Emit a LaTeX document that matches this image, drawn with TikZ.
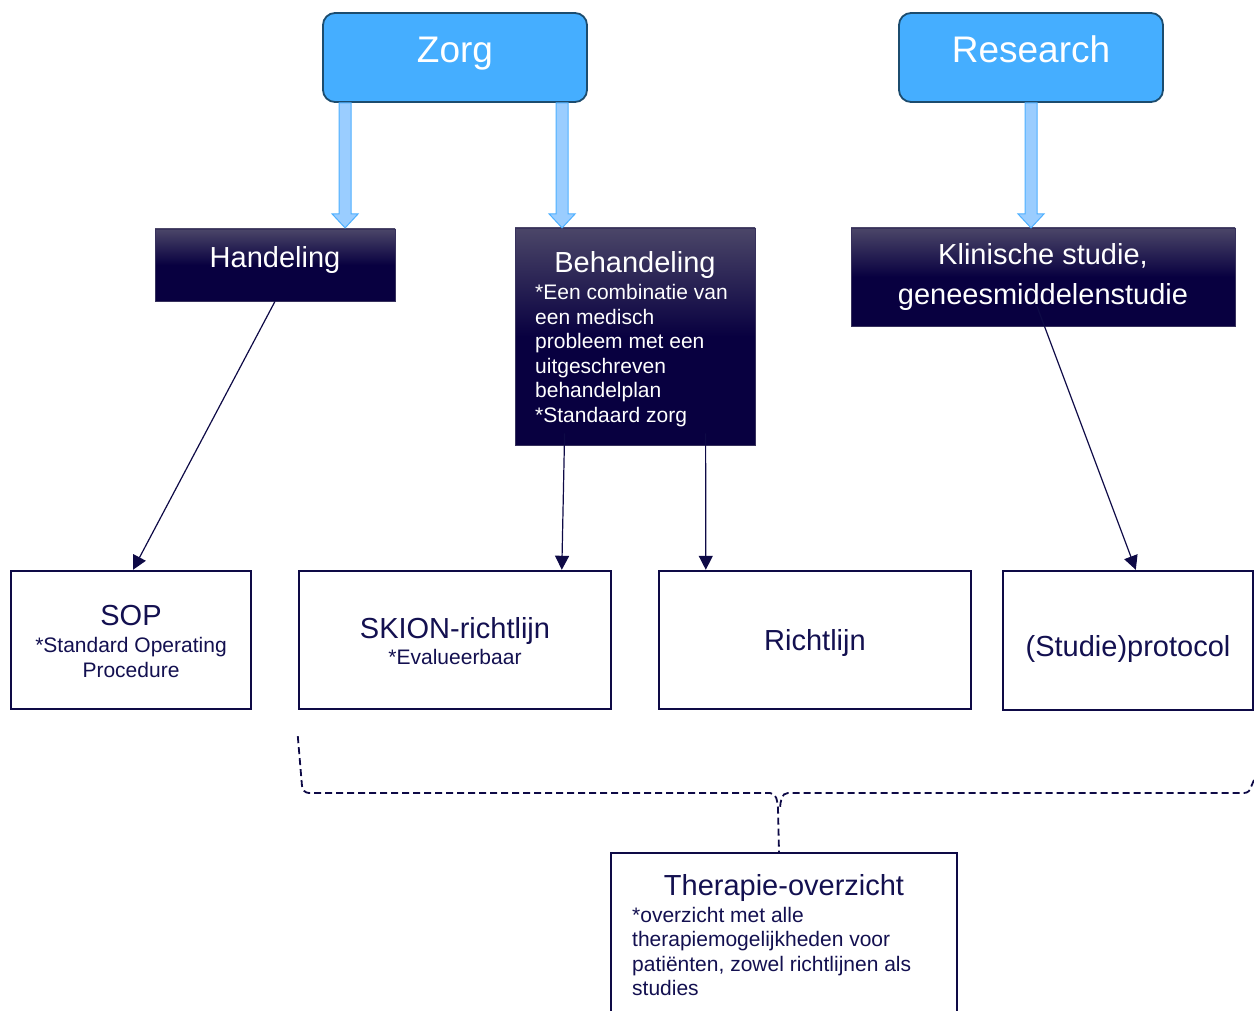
\documentclass[tikz,border=0pt]{standalone}
\usepackage{fontspec}
\setmainfont{Liberation Sans}
\usetikzlibrary{arrows.meta,calc}
\definecolor{navy}{HTML}{0E0A46}
\definecolor{navytext}{HTML}{131050}
\definecolor{zblue}{HTML}{45AEFF}
\definecolor{zborder}{HTML}{1C4C6E}
\definecolor{afill}{HTML}{9ACDFF}
\definecolor{aline}{HTML}{4EB0FF}
\definecolor{gtop}{HTML}{4B4668}
\definecolor{gbot}{HTML}{080040}
\pgfdeclareverticalshading{gradsh}{100bp}{color(0bp)=(gbot); color(50bp)=(gbot); color(75bp)=(gtop); color(100bp)=(gtop)}
\newcommand{\fs}[1]{\fontsize{#1}{#1}\selectfont}
\tikzset{
  topbox/.style={draw=zborder, line width=1.8pt, fill=zblue, rounded corners=12pt, inner sep=0pt},
  gradbox/.style={draw=gtop!70!gbot, line width=0.8pt, shading=gradsh, inner sep=0pt},
  whitebox/.style={draw=navy, line width=2.4pt, fill=white, inner sep=0pt},
  ttl/.style={inner sep=0pt, anchor=base, font=\fs{29}},
  bodyl/.style={inner sep=0pt, anchor=base west, font=\fs{21}},
  bodyc/.style={inner sep=0pt, anchor=base, font=\fs{21}},
  barrow/.style={draw=aline, line width=1pt, fill=afill},
  conn/.style={draw=navy, line width=1.2pt, -{Triangle[length=14pt,width=14pt]}},
  bracestyle/.style={draw=navy, line width=1.8pt, dash pattern=on 7pt off 4pt}
}
\begin{document}
\begin{tikzpicture}[x=1pt,y=-1pt]
\useasboundingbox (0,0) rectangle (1254,1011);

% top boxes
\node[topbox, minimum width=264pt, minimum height=89pt] (zorg) at (455,57.5) {};
\node[ttl, text=white, font=\fs{37}] (zorgt) at (455,63) {Zorg};
\node[topbox, minimum width=264pt, minimum height=89pt] (research) at (1031,57.5) {};
\node[ttl, text=white, font=\fs{37}] (researcht) at (1031,63) {Research};

% dark gradient boxes
\node[gradbox, minimum width=240pt, minimum height=72pt] (hand) at (275,265) {};
\node[ttl, text=white] (handt) at (275,268) {Handeling};

\node[gradbox, minimum width=240pt, minimum height=217pt] (beh) at (635,336.5) {};
\node[ttl, text=white] (beht) at (635,273) {Behandeling};
\node[bodyl, text=white] (behb1) at (535,300) {*Een combinatie van};
\node[bodyl, text=white] (behb2) at (535,324.4) {een medisch};
\node[bodyl, text=white] (behb3) at (535,348.8) {probleem met een};
\node[bodyl, text=white] (behb4) at (535,373.2) {uitgeschreven};
\node[bodyl, text=white] (behb5) at (535,397.6) {behandelplan};
\node[bodyl, text=white] (behb6) at (535,422) {*Standaard zorg};

\node[gradbox, minimum width=384pt, minimum height=98pt] (klin) at (1043,277) {};
\node[ttl, text=white] (klint1) at (1043,265) {Klinische studie,};
\node[ttl, text=white] (klint2) at (1043,305) {geneesmiddelenstudie};

% white boxes
\node[whitebox, minimum width=240pt, minimum height=138pt] (sop) at (131,640) {};
\node[ttl, text=navytext] (sopt) at (131,625) {SOP};
\node[bodyc, text=navytext] (sopb1) at (131,652) {*Standard Operating};
\node[bodyc, text=navytext] (sopb2) at (131,677) {Procedure};

\node[whitebox, minimum width=312pt, minimum height=138pt] (skion) at (455,640) {};
\node[ttl, text=navytext] (skiont) at (455,638) {SKION-richtlijn};
\node[bodyc, text=navytext] (skionb) at (455,664) {*Evalueerbaar};

\node[whitebox, minimum width=312pt, minimum height=138pt] (richt) at (815,640) {};
\node[ttl, text=navytext] (richtt) at (815,650) {Richtlijn};

\node[whitebox, minimum width=250pt, minimum height=139pt] (prot) at (1128,640.5) {};
\node[ttl, text=navytext] (prott) at (1128,656) {(Studie)protocol};

\node[whitebox, minimum width=346pt, minimum height=200pt] (ther) at (784,953) {};
\node[ttl, text=navytext] (thert) at (784,895) {Therapie-overzicht};
\node[bodyl, text=navytext] (therb1) at (632,922) {*overzicht met alle};
\node[bodyl, text=navytext] (therb2) at (632,946.5) {therapiemogelijkheden voor};
\node[bodyl, text=navytext] (therb3) at (632,971) {patiënten, zowel richtlijnen als};
\node[bodyl, text=navytext] (therb4) at (632,995.5) {studies};

% block arrows
\draw[barrow] ($(zorg.south west)+(17,0)$) -- ++(0,111) -- ++(-7,0) -- ++(13,14) -- ++(13,-14) -- ++(-7,0) -- ++(0,-111) -- cycle;
\draw[barrow] ($(zorg.south west)+(234,0)$) -- ++(0,111) -- ++(-7,0) -- ++(13,14) -- ++(13,-14) -- ++(-7,0) -- ++(0,-111) -- cycle;
\draw[barrow] ($(research.south)+(-6,0)$) -- ++(0,111) -- ++(-7,0) -- ++(13,14) -- ++(13,-14) -- ++(-7,0) -- ++(0,-111) -- cycle;

% connectors
\draw[conn] (hand.south) -- ($(sop.north)+(2,0)$);
\draw[conn] ($(beh.south west)+(50,-12)$) -- ($(skion.north west)+(264,0)$);
\draw[conn] ($(beh.south west)+(191,-12)$) -- ($(richt.north west)+(48,0)$);
\draw[conn] ($(klin.south)+(-6,-20)$) -- ($(prot.north west)+(134,0)$);

% dashed brace
\draw[bracestyle] ($(skion.south west)+(0,26)$) -- (302,786) to[out=-85,in=180] (309,793) -- (770,793) to[out=0,in=95] (778,808) -- ($(ther.north)+(-5,0)$);
\draw[bracestyle] (1254,780) -- (1251,787) to[out=-100,in=0] (1244,793) -- (788,793) to[out=180,in=85] (780,808);
\end{tikzpicture}
\end{document}
